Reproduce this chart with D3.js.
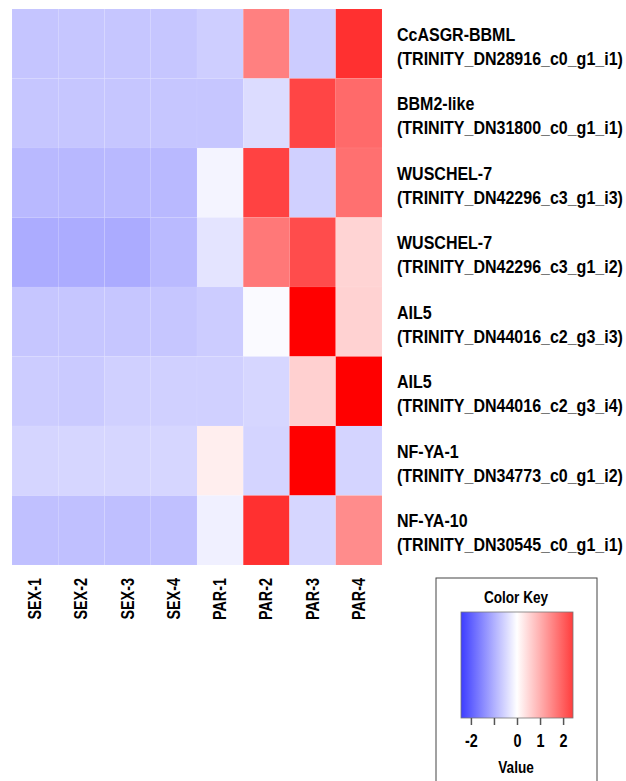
<!DOCTYPE html>
<html>
<head>
<meta charset="utf-8">
<script src="https://cdn.jsdelivr.net/npm/d3@7"></script>
<style>
  body { margin: 0; background: #fff; }
  svg text { font-family: "Liberation Sans", Arial, sans-serif; font-weight: bold; fill: #000; }
</style>
</head>
<body>
<svg id="chart" width="626" height="781"></svg>
<script>
'use strict';

// columnas (muestras)
var samples = ['SEX-1', 'SEX-2', 'SEX-3', 'SEX-4', 'PAR-1', 'PAR-2', 'PAR-3', 'PAR-4'];

// filas: nombre del gen + transcrito
var geneNames = ['CcASGR-BBML', 'BBM2-like', 'WUSCHEL-7', 'WUSCHEL-7', 'AIL5', 'AIL5', 'NF-YA-1', 'NF-YA-10'];
var transcriptIds = [
    '(TRINITY_DN28916_c0_g1_i1)',
    '(TRINITY_DN31800_c0_g1_i1)',
    '(TRINITY_DN42296_c3_g1_i3)',
    '(TRINITY_DN42296_c3_g1_i2)',
    '(TRINITY_DN44016_c2_g3_i3)',
    '(TRINITY_DN44016_c2_g3_i4)',
    '(TRINITY_DN34773_c0_g1_i2)',
    '(TRINITY_DN30545_c0_g1_i1)'
];

var rowValues = [
    [-0.73, -0.72, -0.72, -0.72, -0.61, 1.59, -0.64, 2.60],
    [-0.72, -0.72, -0.72, -0.72, -0.72, -0.44, 2.33, 1.87],
    [-0.88, -0.89, -0.88, -0.88, -0.14, 2.37, -0.59, 1.79],
    [-1.04, -1.04, -1.05, -0.87, -0.34, 1.69, 2.25, 0.54],
    [-0.72, -0.72, -0.72, -0.71, -0.64, -0.06, 3.20, 0.56],
    [-0.64, -0.67, -0.59, -0.59, -0.59, -0.51, 0.59, 3.20],
    [-0.53, -0.51, -0.51, -0.51, 0.21, -0.54, 3.20, -0.54],
    [-0.79, -0.79, -0.80, -0.79, -0.19, 2.60, -0.51, 1.44]
];

// leyenda
var keyTicks = [-2, -1, 0, 1, 2];
var keyTickLabels = ['-2', '', '0', '1', '2'];
var keyRange = [-2.43, 2.43];
var colorLimit = 3.2;

// fuente estrecha simulada (no hay Arial Narrow)
var narrow = 0.8;
var narrowRows = 0.89;

var svg = d3.select('#chart');

var heat = { left: 12, top: 9, right: 382, bottom: 565 };

var x = d3.scaleBand().domain(samples).range([heat.left, heat.right]);
var y = d3.scaleBand().domain(d3.range(geneNames.length)).range([heat.top, heat.bottom]);

var color = d3.scaleLinear()
    .domain([-colorLimit, 0, colorLimit])
    .range(['#0000ff', '#ffffff', '#ff0000'])
    .interpolate(d3.interpolateRgb)
    .clamp(true);

// celdas
var cells = [];
rowValues.forEach(function (row, i) {
    row.forEach(function (v, j) {
        cells.push({ row: i, col: samples[j], value: v });
    });
});

svg.append('g').attr('class', 'cells')
    .selectAll('rect')
    .data(cells)
    .enter().append('rect')
    .attr('x', function (d) { return x(d.col); })
    .attr('y', function (d) { return y(d.row); })
    .attr('width', x.bandwidth())
    .attr('height', y.bandwidth())
    .attr('fill', function (d) { return color(d.value); })
    .attr('stroke', 'rgba(255,255,255,0.1)')
    .attr('stroke-width', 0.5);

// etiquetas de fila
var rowLabels = svg.append('g').attr('class', 'row-labels')
    .selectAll('text')
    .data(geneNames)
    .enter().append('text')
    .attr('transform', function (d, i) {
        return 'translate(' + (heat.right + 15) + ',' + (y(i) + y.bandwidth() / 2 - 3) + ') scale(' + narrowRows + ',1)';
    })
    .style('font-size', '18px');

rowLabels.append('tspan').attr('x', 0).text(function (d) { return d; });
rowLabels.append('tspan')
    .attr('x', 0)
    .attr('dy', 24)
    .text(function (d, i) { return transcriptIds[i]; });

// etiquetas de columna
svg.append('g').attr('class', 'col-labels')
    .selectAll('text')
    .data(samples)
    .enter().append('text')
    .attr('transform', function (d) {
        return 'translate(' + (x(d) + x.bandwidth() / 2 + 6) + ',578) rotate(-90) scale(' + narrow + ',1)';
    })
    .attr('text-anchor', 'end')
    .style('font-size', '18px')
    .text(function (d) { return d; });

// Color Key
var keyBox = { x: 436, y: 578, w: 161, h: 240 };
var key = svg.append('g').attr('class', 'color-key');

key.append('rect')
    .attr('x', keyBox.x).attr('y', keyBox.y)
    .attr('width', keyBox.w).attr('height', keyBox.h)
    .attr('fill', 'none').attr('stroke', '#444').attr('stroke-width', 1);

key.append('text')
    .attr('transform', 'translate(516,603) scale(' + narrow + ',1)')
    .attr('text-anchor', 'middle')
    .style('font-size', '17px')
    .text('Color Key');

var kx = d3.scaleLinear().domain(keyRange).range([461, 573]);

var grad = svg.append('defs').append('linearGradient').attr('id', 'keyGrad');
d3.range(0, 1.0001, 0.1).forEach(function (t) {
    var v = keyRange[0] + t * (keyRange[1] - keyRange[0]);
    grad.append('stop').attr('offset', t).attr('stop-color', color(v));
});

key.append('rect')
    .attr('x', kx(keyRange[0])).attr('y', 612)
    .attr('width', kx(keyRange[1]) - kx(keyRange[0])).attr('height', 106)
    .attr('fill', 'url(#keyGrad)')
    .attr('stroke', '#777').attr('stroke-width', 0.8);

var keyAxis = d3.axisBottom(kx)
    .tickValues(keyTicks)
    .tickSize(7)
    .tickFormat(function (d, i) { return keyTickLabels[i]; });

var ax = key.append('g').attr('transform', 'translate(0,718)').call(keyAxis);
ax.select('.domain').remove();
ax.selectAll('line').attr('stroke', '#555').attr('stroke-width', 1.5);
ax.selectAll('text')
    .attr('dy', 0).attr('y', 0)
    .attr('transform', 'translate(0,29) scale(' + narrow + ',1)')
    .style('font-size', '18px')
    .style('font-family', '"Liberation Sans", sans-serif')
    .style('font-weight', 'bold');

key.append('text')
    .attr('transform', 'translate(516,773) scale(' + narrow + ',1)')
    .attr('text-anchor', 'middle')
    .style('font-size', '17px')
    .text('Value');
</script>
</body>
</html>
